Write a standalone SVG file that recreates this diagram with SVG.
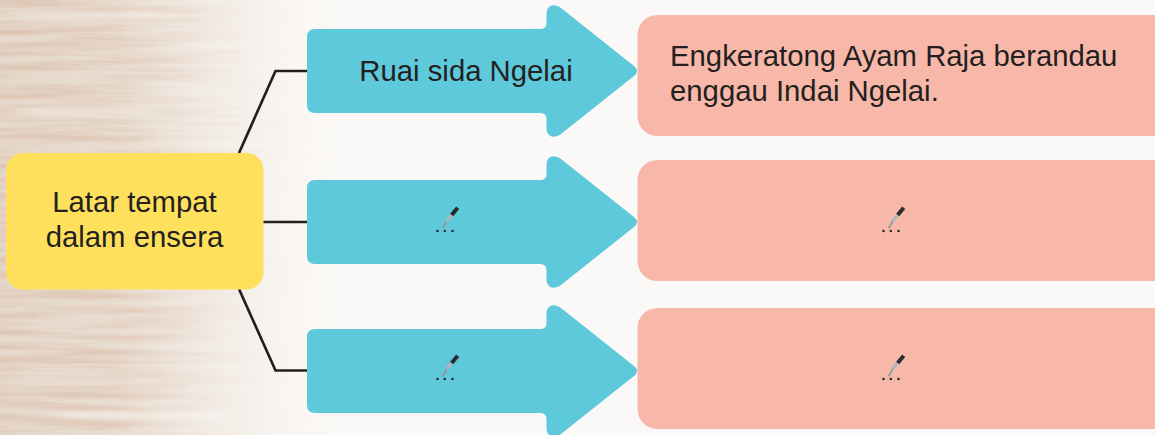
<svg xmlns="http://www.w3.org/2000/svg" xmlns:xlink="http://www.w3.org/1999/xlink" width="1155" height="435" viewBox="0 0 1155 435">
<style>
text{font-family:"Liberation Sans",Arial,sans-serif;font-size:29.300px;fill:#231f20}
.mid{text-anchor:middle}
.arrow{fill:#5fc9dc}
.box{fill:#f7b8a9}
.start{fill:#ffe05d}
.wire{fill:none;stroke:#231f20;stroke-width:2.700}
.streak{fill:#f5f0ea;filter:url(#soft);opacity:.8}
</style>
<defs>
<linearGradient id="fade" x1="0" x2="1" y1="0" y2="0">
<stop offset="0" stop-color="#fff" stop-opacity="1"/>
<stop offset="0.35" stop-color="#fff" stop-opacity="0.9"/>
<stop offset="0.6" stop-color="#fff" stop-opacity="0.4"/>
<stop offset="0.85" stop-color="#fff" stop-opacity="0.08"/>
<stop offset="1" stop-color="#fff" stop-opacity="0"/>
</linearGradient>
<mask id="woodMask"><rect width="340" height="435" fill="url(#fade)"/></mask>
<filter id="grain" x="0" y="0" width="100%" height="100%">
<feTurbulence type="fractalNoise" baseFrequency="0.008 0.14" numOctaves="5" seed="11"/>
<feColorMatrix type="matrix" values="0 0 0 0 0.72  0 0 0 0 0.55  0 0 0 0 0.44  2.2 0 0 0 -0.75"/>
</filter>
<filter id="soft" x="-20%" y="-300%" width="140%" height="700%"><feGaussianBlur stdDeviation="12 2.500"/></filter>
<path id="arrowShape" d="M315-42H540Q546.500-42 546.500-48V-57C546.500-66 554-68 561-63L634-5Q640 0 634 5L561 63C554 68 546.500 66 546.500 57V48Q546.500 42 540 42H315Q307 42 307 34V-34Q307-42 315-42Z"/>
<g id="pen">
<path d="M-5.300 10.300L-1.300 3" stroke="#8f9ba0" stroke-width="1.800" fill="none"/>
<path d="M-1.300 3L3.700 -3" stroke="#aeb8bc" stroke-width="3.200" fill="none"/>
<path d="M3.700 -3L9.700 -10.300" stroke="#2b2b2d" stroke-width="4" fill="none"/>
<circle cx="-10.500" cy="13" r="1.300" fill="#2b2b2d"/>
<circle cx="-3.200" cy="13" r="1.300" fill="#2b2b2d"/>
<circle cx="4.500" cy="13" r="1.300" fill="#2b2b2d"/>
</g>
</defs>
<rect width="1155" height="435" fill="#fbf9f7"/>
<g mask="url(#woodMask)">
<rect width="340" height="435" fill="#e6d9cc"/>
<rect width="340" height="435" filter="url(#grain)"/>
<rect class="streak" x="10" y="12" width="150" height="4"/>
<rect class="streak" x="20" y="108" width="140" height="5"/>
<rect class="streak" x="60" y="412" width="160" height="5"/>
</g>
<g id="connectors">
<path class="wire" d="M239 153L275.500 71H307"/>
<path class="wire" d="M263 222H307"/>
<path class="wire" d="M239 289L275.500 370.500H307"/>
</g>
<g id="start-node">
<rect class="start" x="6" y="153" width="257.500" height="136.500" rx="17"/>
<text class="mid" x="134.500" y="212">Latar tempat</text>
<text class="mid" x="134.500" y="247">dalam ensera</text>
</g>
<g id="arrow-1">
<use class="arrow" xlink:href="#arrowShape" href="#arrowShape" y="71"/>
<text class="mid" x="466" y="81">Ruai sida Ngelai</text>
</g>
<g id="arrow-2">
<use class="arrow" xlink:href="#arrowShape" href="#arrowShape" y="222"/>
<use xlink:href="#pen" href="#pen" x="448" y="218"/>
</g>
<g id="arrow-3">
<use class="arrow" xlink:href="#arrowShape" href="#arrowShape" y="371"/>
<use xlink:href="#pen" href="#pen" x="448" y="366"/>
</g>
<g id="box-1">
<rect class="box" x="637.500" y="15" width="540" height="121" rx="20"/>
<text x="670" y="66">Engkeratong Ayam Raja berandau</text>
<text x="670" y="101">enggau Indai Ngelai.</text>
</g>
<g id="box-2">
<rect class="box" x="637.500" y="160" width="540" height="121" rx="20"/>
<use xlink:href="#pen" href="#pen" x="894" y="218"/>
</g>
<g id="box-3">
<rect class="box" x="637.500" y="308" width="540" height="121" rx="20"/>
<use xlink:href="#pen" href="#pen" x="894" y="366"/>
</g>
</svg>
